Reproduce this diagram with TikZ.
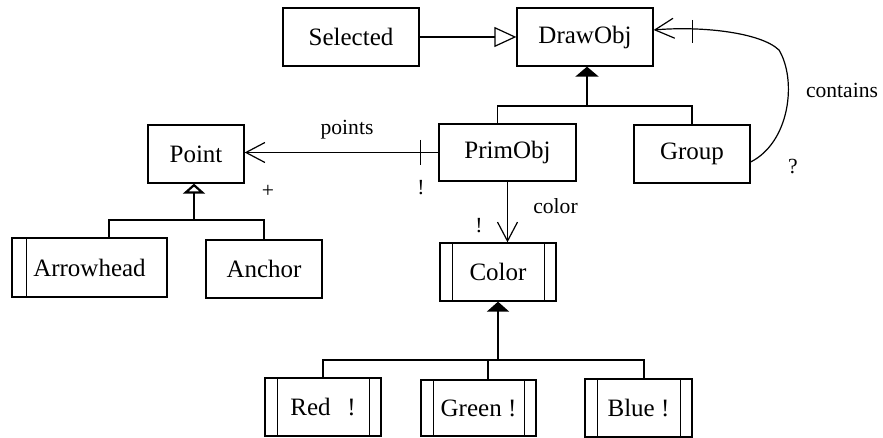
\documentclass[tikz,border=0pt]{standalone}
\usepackage{fontspec}
\setmainfont{Liberation Serif}
\usetikzlibrary{arrows.meta}

\begin{document}
\begin{tikzpicture}[x=1pt,y=-1pt,
  cls/.style={draw,line width=1.3pt,minimum height=58pt,inner sep=0pt,font=\fontsize{25}{30}\selectfont},
  lbl/.style={inner sep=0pt,font=\fontsize{21.6}{26}\selectfont},
  link/.style={line width=1.2pt},
  isa/.style={line width=1.3pt},
  isastem/.style={line width=2.2pt},
  opentip/.style={-{Straight Barb[length=19pt,width=20pt]}}]
\useasboundingbox (0,0) rectangle (883,438);

% classes
\node[cls,minimum width=136pt] (Selected) at (351,37) {Selected};
\node[cls,minimum width=136pt] (DrawObj) at (585,37) {DrawObj};
\node[cls,minimum width=137pt,minimum height=57pt] (PrimObj) at (507.5,152.5) {PrimObj};
\node[cls,minimum width=116pt] (Group) at (692,154) {Group};
\node[cls,minimum width=96pt] (Point) at (196,154) {Point};
\node[cls,minimum width=155pt,minimum height=59pt] (Arrowhead) at (89.5,267.5) {Arrowhead};
\node[cls,minimum width=116pt] (Anchor) at (264,269) {Anchor};
\node[cls,minimum width=116pt] (Color) at (498,272) {Color};
\node[cls,minimum width=116pt] (Red) at (323,407) {Red\ \ \,!};
\node[cls,minimum width=115pt,minimum height=56pt] (Green) at (478.5,408) {Green !};
\node[cls,minimum width=107pt] (Blue) at (638.5,408) {Blue !};

% inner bars
\draw[isa] ([xshift=15pt]Arrowhead.north west) -- ([xshift=15pt]Arrowhead.south west);
\foreach \n in {Color,Red,Green,Blue}
  \draw[isa] ([xshift=13pt]\n.north west) -- ([xshift=13pt]\n.south west)
    ([xshift=-12pt]\n.north east) -- ([xshift=-12pt]\n.south east);

% inheritance
\draw[link,-{Triangle[open,length=22pt,width=20pt]}] (Selected) -- (DrawObj);

\coordinate (jDraw) at (587,106);
\draw[isastem,-{Triangle[length=10pt,width=23pt]}] (jDraw) -- (jDraw |- DrawObj.south);
\draw[isa] ([xshift=-10pt]PrimObj.north) |- (jDraw) -| (Group.north);

\coordinate (jPoint) at (194,220);
\draw[isastem,-{Triangle[open,length=10pt,width=22pt]}] (jPoint) -- (jPoint |- Point.south);
\draw[isa] ([xshift=19.5pt]Arrowhead.north) |- (jPoint) -| (Anchor.north);

\coordinate (jColor) at (498,360);
\draw[isastem,-{Triangle[length=10pt,width=22pt]}] (jColor) -- (Color.south);
\draw[isa] (Red.north) |- (jColor) -| ([xshift=9.5pt]Green.north);
\draw[isa] (jColor) -| ([xshift=5.5pt]Blue.north);

% associations
\draw[link,opentip] (PrimObj.west) -- (PrimObj.west -| Point.east);
\draw[link] ([xshift=-18pt]PrimObj.west) ++(0,-12.5) -- ++(0,25);
\draw[link,opentip] (PrimObj.south) -- (PrimObj.south |- Color.north);
\draw[link,opentip] ([yshift=-8pt]Group.east) .. controls (790,142) and (797,80) .. (779,50)
  .. controls (760,32) and (700,26) .. ([yshift=7pt]DrawObj.east);
\draw[link] ([xshift=39pt,yshift=17pt]DrawObj.east) -- ++(0,23);

% labels
\node[lbl] (pointsLbl) at (347,130) {points};
\node[lbl] (bangPts) at (421,187.5) {!};
\node[lbl] (plusLbl) at (268,191) {+};
\node[lbl] (colorLbl) at (555.5,206.5) {color};
\node[lbl] (bangCol) at (479,226) {!};
\node[lbl] (containsLbl) at (842,90) {contains};
\node[lbl] (qLbl) at (793,167) {?};
\end{tikzpicture}
\end{document}
